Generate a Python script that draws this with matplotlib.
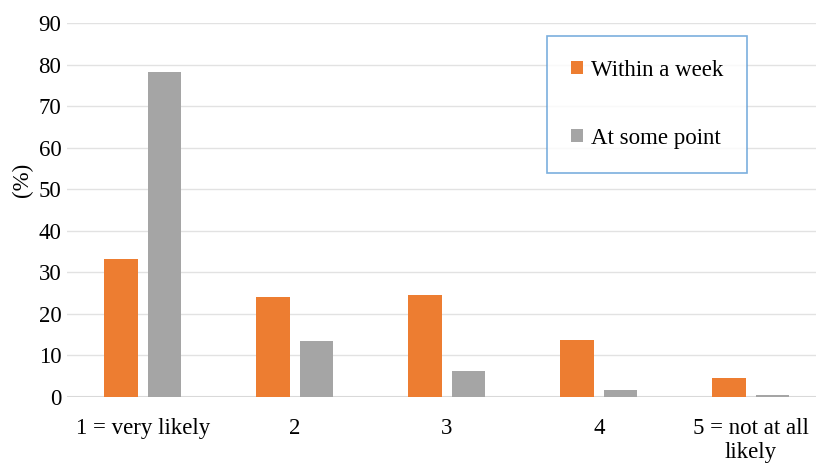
import numpy as np
import matplotlib.pyplot as plt

# likelihood categories and percentages per answer group
categories = ["1 = very likely", "2", "3", "4", "5 = not at all\nlikely"]
within_week = [33.1, 24.0, 24.5, 13.7, 4.5]
some_point = [78.1, 13.4, 6.2, 1.7, 0.4]

plt.rcParams['font.family'] = ['Liberation Serif', 'DejaVu Serif']
fs = 16.5

fig = plt.figure(figsize=(8.16, 4.63), dpi=100)
ax = fig.add_axes([0.0821, 0.1425, 0.9314, 0.8078])

x = np.arange(len(categories))
w = 0.22
ax.bar(x - 0.145, within_week, w, color='#ED7D31', label='Within a week', zorder=3)
ax.bar(x + 0.14, some_point, w, color='#A5A5A5', label='At some point', zorder=3)

ax.set_xlim(-0.5, len(categories) - 0.5)
ax.set_ylim(0, 90)
ax.set_yticks(np.arange(0, 91, 10))
ax.set_xticks(x)
ax.set_xticklabels(categories)
ax.tick_params(axis='both', length=0, labelsize=fs, colors='#000000')
ax.tick_params(axis='x', pad=15)
ax.tick_params(axis='y', pad=4)
for lbl in ax.get_xticklabels():
    lbl.set_linespacing(1.2)

ax.yaxis.grid(True, color='#E2E2E2', linewidth=1.0, zorder=0)
for s in ax.spines.values():
    s.set_visible(False)
ax.axhline(0, color='#D9D9D9', linewidth=1.5, zorder=2)

ax.set_ylabel('(%)', fontsize=fs)
ax.yaxis.set_label_coords(-0.045, 0.58)

leg = ax.legend(loc='upper left', bbox_to_anchor=(547 / 816, 1 - 36 / 463),
                bbox_transform=fig.transFigure, fontsize=fs, frameon=True,
                fancybox=False, handlelength=0.5, handleheight=0.5,
                handletextpad=0.35, labelspacing=2.05, borderpad=1.05,
                borderaxespad=0)
leg.get_frame().set_edgecolor('#5B9BD5')
leg.get_frame().set_linewidth(1.2)

fig.savefig('out.png', dpi=100)
